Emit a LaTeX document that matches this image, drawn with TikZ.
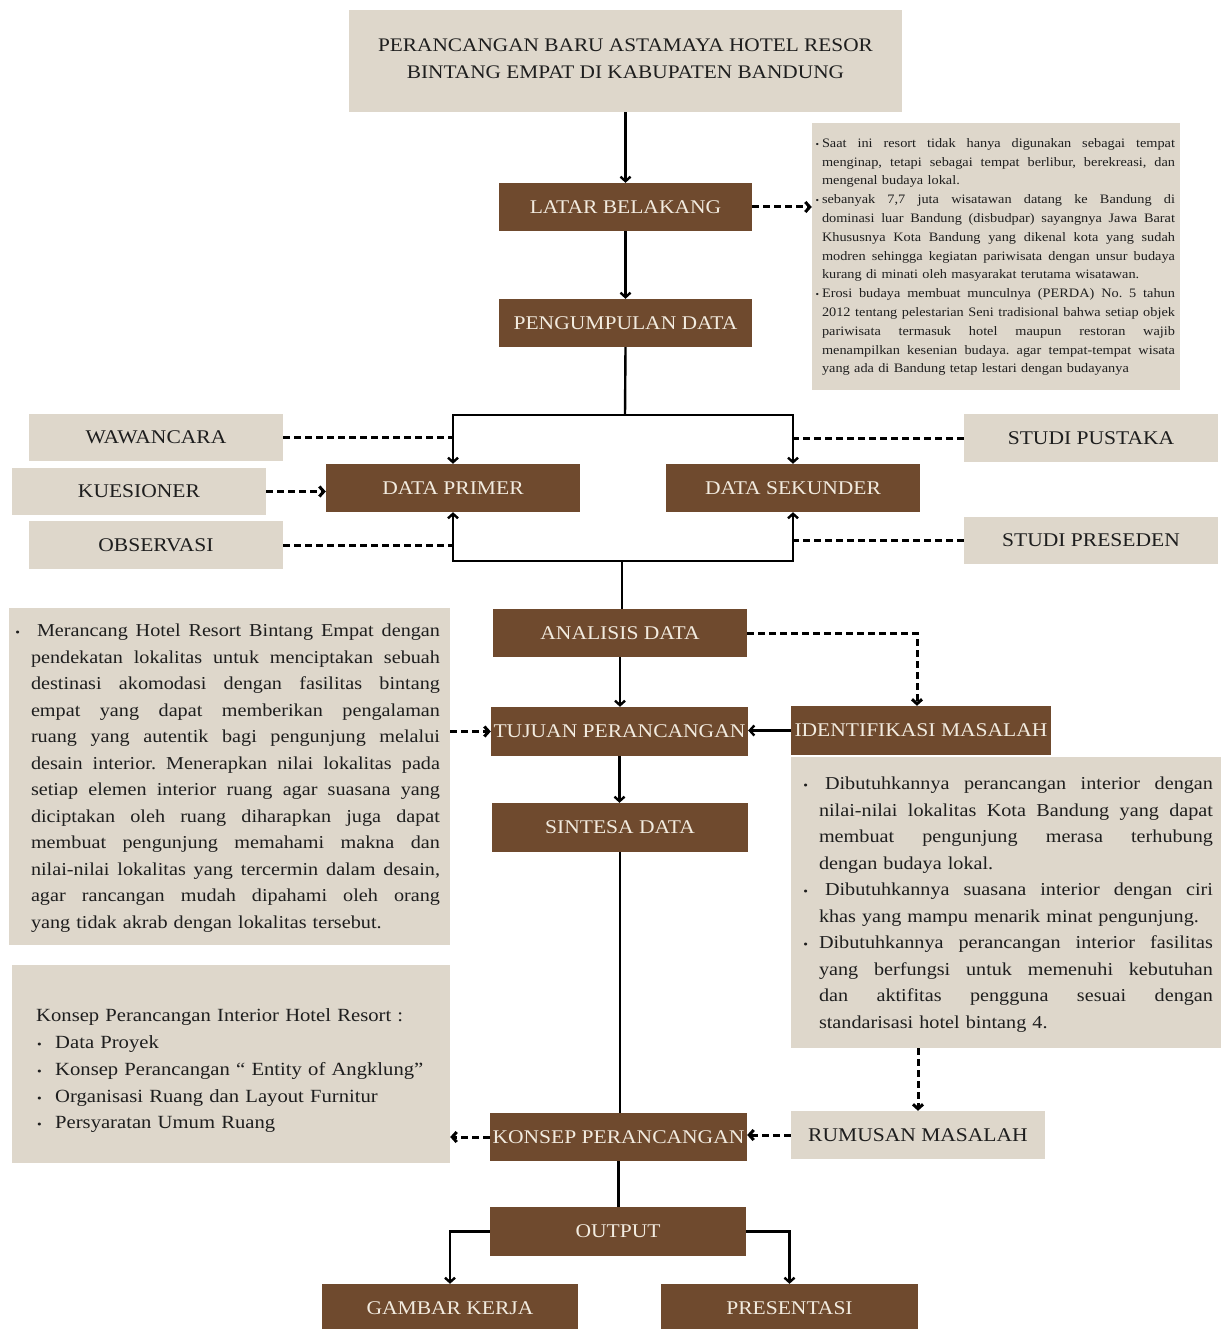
\documentclass[tikz,border=0pt]{standalone}
\usepackage{fontspec}
\setmainfont{Liberation Serif}[FakeStretch=1.11]
\usetikzlibrary{arrows.meta,calc}
\definecolor{brn}{HTML}{6F4A2E}
\definecolor{bge}{HTML}{DED7CB}
\definecolor{crm}{HTML}{F2EBDF}
\definecolor{ink}{HTML}{1E1E1E}
\setlength\parindent{0pt}
\frenchspacing
% justified line of given width
\newcommand\jl[2]{\par\hbox to #1{\spaceskip=.25em plus .8em minus .12em\relax\xspaceskip=\spaceskip #2}}
% natural (last) line
\newcommand\nl[1]{\par\hbox{#1}}
% hanging bullet
\newcommand\bu[2]{\llap{{\fontsize{#1}{#1}\selectfont\textbullet}\hspace{#2}}}
\begin{document}
\begin{tikzpicture}[x=1pt,y=-1pt,
  brownbox/.style={fill=brn, text=crm, inner sep=0pt, font=\fontsize{19.4}{22}\selectfont},
  beigebox/.style={fill=bge, text=ink, inner sep=0pt, font=\fontsize{19.4}{22}\selectfont},
  plainbox/.style={fill=bge, inner sep=0pt},
  txt/.style={inner sep=0pt, text=ink, align=left},
  ln/.style={draw=black, line width=2.4pt},
  arr/.style={ln, -{Straight Barb[length=4.5pt,width=10pt]}},
  dln/.style={draw=black, line width=3pt, dash pattern=on 7pt off 4pt},
  darr/.style={dln, -{Straight Barb[length=4.5pt,width=10pt]}}
]
\useasboundingbox (0,0) rectangle (1222,1329);
\fill[white] (0,0) rectangle (1222,1329);

% title
\node[plainbox, minimum width=553pt, minimum height=102pt] (title) at (625.5,61) {};
\node[txt, align=center, font=\fontsize{19.2}{27}\selectfont] (titletxt) at (625.5,59)
  {PERANCANGAN BARU ASTAMAYA HOTEL RESOR\\BINTANG EMPAT DI KABUPATEN BANDUNG};

\node[brownbox, minimum width=253pt, minimum height=48pt] (latar) at (625.5,207) {LATAR BELAKANG};
\node[brownbox, minimum width=253pt, minimum height=48pt] (peng) at (625.5,323) {PENGUMPULAN DATA};

% info box
\node[plainbox, minimum width=368pt, minimum height=267pt] (info) at (996,256.5) {};
\node[txt, font=\fontsize{12.9}{18.8}\selectfont, text width=353pt] (infotxt) at (998.5,252) {%
\jl{353pt}{\bu{9}{3pt}Saat ini resort tidak hanya digunakan sebagai tempat}
\jl{353pt}{menginap, tetapi sebagai tempat berlibur, berekreasi, dan}
\nl{mengenal budaya lokal.}
\jl{353pt}{\bu{9}{3pt}sebanyak 7,7 juta wisatawan datang ke Bandung di}
\jl{353pt}{dominasi luar Bandung (disbudpar) sayangnya Jawa Barat}
\jl{353pt}{Khususnya Kota Bandung yang dikenal kota yang sudah}
\jl{353pt}{modren sehingga kegiatan pariwisata dengan unsur budaya}
\nl{kurang di minati oleh masyarakat terutama wisatawan.}
\jl{353pt}{\bu{9}{3pt}Erosi budaya membuat munculnya (PERDA) No. 5 tahun}
\jl{353pt}{2012 tentang pelestarian Seni tradisional bahwa setiap objek}
\jl{353pt}{pariwisata termasuk hotel maupun restoran wajib}
\jl{353pt}{menampilkan kesenian budaya. agar tempat-tempat wisata}
\nl{yang ada di Bandung tetap lestari dengan budayanya}};

% data collection
\node[beigebox, minimum width=254pt, minimum height=47pt] (waw) at (156,437.5) {WAWANCARA};
\node[beigebox, minimum width=254pt, minimum height=47pt] (kues) at (139,491.5) {KUESIONER};
\node[beigebox, minimum width=254pt, minimum height=48pt] (obs) at (156,545) {OBSERVASI};
\node[brownbox, minimum width=254pt, minimum height=48pt] (dprim) at (453,488) {DATA PRIMER};
\node[brownbox, minimum width=254pt, minimum height=48pt] (dsek) at (793,488) {DATA SEKUNDER};
\node[beigebox, minimum width=254pt, minimum height=48pt] (stp) at (1091,438) {STUDI PUSTAKA};
\node[beigebox, minimum width=254pt, minimum height=47pt] (stpr) at (1091,540.5) {STUDI PRESEDEN};

% analysis
\node[brownbox, minimum width=254pt, minimum height=48pt] (anal) at (620,633) {ANALISIS DATA};
\node[brownbox, minimum width=257pt, minimum height=49pt] (tuj) at (619.5,731.5) {TUJUAN PERANCANGAN};
\node[brownbox, minimum width=260pt, minimum height=49pt] (ident) at (921,730.5) {IDENTIFIKASI MASALAH};
\node[brownbox, minimum width=256pt, minimum height=49pt] (sint) at (620,827.5) {SINTESA DATA};

% left text box
\node[plainbox, minimum width=441pt, minimum height=337pt] (tbox) at (229.5,776.5) {};
\node[txt, font=\fontsize{18.2}{26.5}\selectfont, text width=409pt] (ttxt) at (235.5,771) {%
\jl{409pt}{\bu{12}{11pt}\hspace{6pt}Merancang Hotel Resort Bintang Empat dengan}
\jl{409pt}{pendekatan lokalitas untuk menciptakan sebuah}
\jl{409pt}{destinasi akomodasi dengan fasilitas bintang}
\jl{409pt}{empat yang dapat memberikan pengalaman}
\jl{409pt}{ruang yang autentik bagi pengunjung melalui}
\jl{409pt}{desain interior. Menerapkan nilai lokalitas pada}
\jl{409pt}{setiap elemen interior ruang agar suasana yang}
\jl{409pt}{diciptakan oleh ruang diharapkan juga dapat}
\jl{409pt}{membuat pengunjung memahami makna dan}
\jl{409pt}{nilai-nilai lokalitas yang tercermin dalam desain,}
\jl{409pt}{agar rancangan mudah dipahami oleh orang}
\nl{yang tidak akrab dengan lokalitas tersebut.}};

% right text box
\node[plainbox, minimum width=430pt, minimum height=291pt] (mbox) at (1006,902.5) {};
\node[txt, font=\fontsize{18.2}{26.5}\selectfont, text width=394pt] (mtxt) at (1016,897.5) {%
\jl{394pt}{\bu{12}{11pt}\hspace{6pt}Dibutuhkannya perancangan interior dengan}
\jl{394pt}{nilai-nilai lokalitas Kota Bandung yang dapat}
\jl{394pt}{membuat pengunjung merasa terhubung}
\nl{dengan budaya lokal.}
\jl{394pt}{\bu{12}{11pt}\hspace{6pt}Dibutuhkannya suasana interior dengan ciri}
\nl{khas yang mampu menarik minat pengunjung.}
\jl{394pt}{\bu{12}{11pt}Dibutuhkannya perancangan interior fasilitas}
\jl{394pt}{yang berfungsi untuk memenuhi kebutuhan}
\jl{394pt}{dan aktifitas pengguna sesuai dengan}
\nl{standarisasi hotel bintang 4.}};

% concept
\node[plainbox, minimum width=438pt, minimum height=198pt] (kbox) at (231,1064) {};
\node[txt, font=\fontsize{18.6}{26.7}\selectfont, text width=400pt, anchor=west] (ktxt) at (36,1064) {%
\nl{Konsep Perancangan Interior Hotel Resort :}
\nl{\makebox[19pt][l]{\hspace{1pt}{\fontsize{12}{12}\selectfont\textbullet}}Data Proyek}
\nl{\makebox[19pt][l]{\hspace{1pt}{\fontsize{12}{12}\selectfont\textbullet}}Konsep Perancangan `` Entity of Angklung''}
\nl{\makebox[19pt][l]{\hspace{1pt}{\fontsize{12}{12}\selectfont\textbullet}}Organisasi Ruang dan Layout Furnitur}
\nl{\makebox[19pt][l]{\hspace{1pt}{\fontsize{12}{12}\selectfont\textbullet}}Persyaratan Umum Ruang}};

\node[beigebox, minimum width=254pt, minimum height=48pt] (rum) at (918,1135) {RUMUSAN MASALAH};
\node[brownbox, minimum width=257pt, minimum height=48pt] (konsep) at (618.5,1137) {KONSEP PERANCANGAN};
\node[brownbox, minimum width=256pt, minimum height=49pt] (out) at (618,1231.5) {OUTPUT};
\node[brownbox, minimum width=256pt, minimum height=48pt] (gambar) at (450,1308) {GAMBAR KERJA};
\node[brownbox, minimum width=257pt, minimum height=48pt] (pres) at (789.5,1308) {PRESENTASI};

% connectors
\draw[arr] (title.south) -- (title.south |- latar.north);
\draw[arr] (latar.south) -- (peng.north);
\draw[darr] (latar.east) -- (latar.east -| info.west);

\coordinate (tj) at (625,415);
\coordinate (bj) at (622,561);
\draw[ln] (peng.south) -- (tj);
\draw[arr] (tj) -| (dprim.north);
\draw[arr] (tj) -| (dsek.north);
\draw[arr] (bj) -| (dprim.south);
\draw[arr] (bj) -| (dsek.south);
\draw[ln] (bj) -- (bj |- anal.north);

\draw[dln] (waw.east) -- (waw.east -| dprim.north);
\draw[dln] (obs.east) -- (obs.east -| dprim.south);
\draw[darr] (kues.east) -- (kues.east -| dprim.west);
\draw[dln] (stp.west) -- (stp.west -| dsek.north);
\draw[dln] (stpr.west) -- (stpr.west -| dsek.south);

\draw[arr] (anal.south) -- (anal.south |- tuj.north);
\draw[darr] (anal.east) -| ($(ident.north)+(-4,0)$);
\draw[arr] (ident.west) -- (ident.west -| tuj.east);
\draw[darr] (tbox.east |- tuj.west) -- (tuj.west);
\draw[arr] (tuj.south) -- (tuj.south |- sint.north);
\draw[ln] (sint.south) -- (sint.south |- konsep.north);
\draw[darr] (rum.north |- mbox.south) -- (rum.north);
\draw[darr] (rum.west) -- (rum.west -| konsep.east);
\draw[darr] (konsep.west) -- (konsep.west -| kbox.east);
\draw[ln] (konsep.south) -- (konsep.south |- out.north);
\draw[arr] (out.west) -| (gambar.north);
\draw[arr] (out.east) -| (pres.north);
\end{tikzpicture}
\end{document}
